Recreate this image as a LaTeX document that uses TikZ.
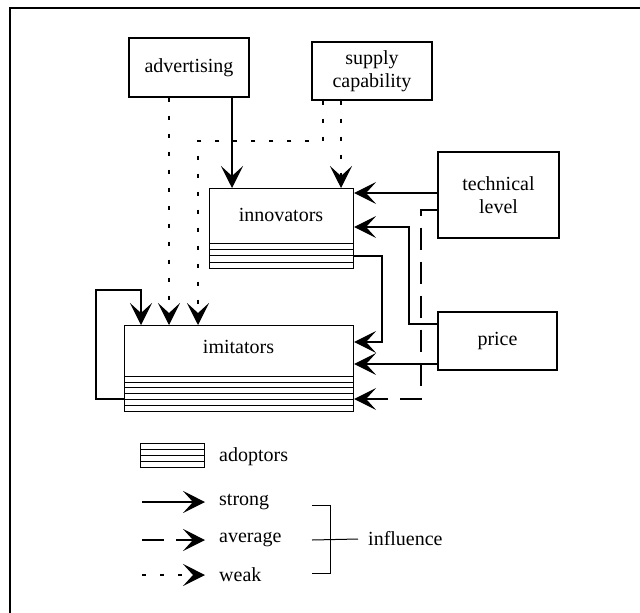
\documentclass[tikz,border=0pt]{standalone}
\usepackage{fontspec}
\setmainfont{Liberation Serif}
\usetikzlibrary{arrows.meta}

\begin{document}
\begin{tikzpicture}[x=1pt,y=-1pt,
    every node/.style={inner sep=0pt,font=\fontsize{20}{23}\selectfont},
    box/.style={draw,line width=1.1pt,align=center},
    strong/.style={line width=1.2pt,-{Stealth[length=22pt,width=22pt,inset=10pt]}},
    average/.style={strong,dash pattern=on 22pt off 12pt},
    weak/.style={strong,dash pattern=on 4pt off 14pt}]
    \useasboundingbox (0,0) rectangle (640,613);
    \draw[line width=2.5pt] (640,8) -- (10,8) -- (10,613);

    % factors
    \node[box,minimum width=120pt,minimum height=59pt] (adv) at (189,67.5) {advertising};
    \node[box,minimum width=120pt,minimum height=58pt] (supply) at (372,71) {supply\\capability};
    \node[box,minimum width=121pt,minimum height=86pt] (tech) at (498.5,195) {technical\\level};
    \node[box,minimum width=119pt,minimum height=58pt] (price) at (497.5,341) {price};

    % groups with adoptors stripes
    \node[box,minimum width=144pt,minimum height=80pt,anchor=north west] (innov) at (209,188) {};
    \node (innovlabel) at (281,215) {innovators};
    \foreach \y in {243,249,255,262}
      \draw[line width=0.9pt] (209,\y) -- (353,\y);
    \node[box,minimum width=229pt,minimum height=86pt,anchor=north west] (imit) at (124,325) {};
    \node (imitlabel) at (238.5,347) {imitators};
    \foreach \y in {376,382,387.5,393,399,405}
      \draw[line width=0.9pt] (124,\y) -- (353,\y);

    % influences
    \draw[strong] ([xshift=43pt]adv.south) -- ([xshift=43pt]adv.south |- innov.north);
    \draw[weak] ([xshift=-20pt]adv.south) -- ([xshift=-20pt]adv.south |- imit.north);
    \draw[weak] ([xshift=-31pt]supply.south) -- ([xshift=-31pt]supply.south |- innov.north);
    \coordinate (sbend) at (198,141);
    \draw[weak] ([xshift=-49pt]supply.south) |- (sbend) -- (sbend |- imit.north);
    \draw[strong] ([yshift=2pt]tech.west) -- ([yshift=2pt]tech.west -| innov.east);
    \coordinate (abend) at (421,399);
    \draw[average] ([yshift=-15pt]tech.west) -| (abend) -- (abend -| imit.east);
    \coordinate (pbend) at (409,227);
    \draw[strong] ([yshift=17pt]price.west) -| (pbend) -- (pbend -| innov.east);
    \draw[strong] ([yshift=-23pt]price.west) -- ([yshift=-23pt]price.west -| imit.east);
    \coordinate (ia) at (382,256);
    \coordinate (ib) at (382,342);
    \draw[strong] (ia -| innov.east) -- (ia) -- (ib) -- (ib -| imit.east);
    \coordinate (la) at (96,399);
    \coordinate (lb) at (141,290);
    \draw[strong] (la -| imit.west) -- (la) |- (lb) -- (lb |- imit.north);

    % legend
    \node[box,minimum width=64pt,minimum height=24pt,anchor=north west] (adopt) at (140,443) {};
    \foreach \y in {449,455,461}
      \draw[line width=0.9pt] (140,\y) -- (204,\y);
    \node[anchor=west] (adoptlabel) at (219,457) {adoptors};
    \node[anchor=west] (lstrong) at (219,502) {strong};
    \node[anchor=west] (laverage) at (219,540) {average};
    \node[anchor=west] (lweak) at (219,575) {weak};
    \foreach \s/\y in {strong/502,average/540,weak/575}
      \draw[\s] (142,\y) -- ([xshift=-14pt]l\s.west);
    \node[anchor=west] (infl) at (368,539) {influence};
    \coordinate (btop) at (312,505);
    \coordinate (bbot) at (312,573);
    \draw[line width=1pt] (btop) -| (330,573) -- (bbot);
    \draw[line width=1pt] (312,540) -- ([xshift=-10pt]infl.west);
\end{tikzpicture}
\end{document}
